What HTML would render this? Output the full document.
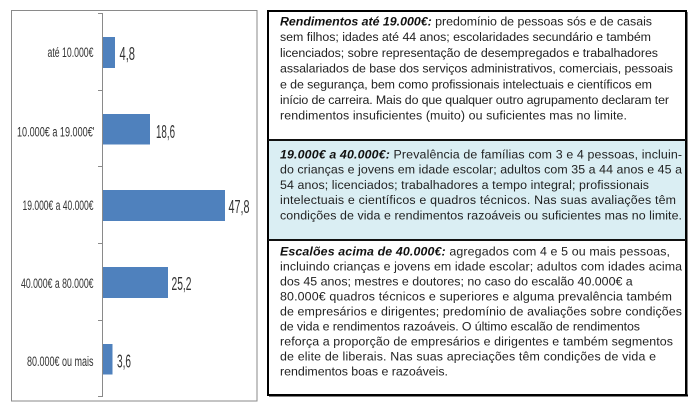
<!DOCTYPE html>
<html>
<head>
<meta charset="utf-8">
<style>
html,body{margin:0;padding:0;background:#fff;}
body{width:696px;height:403px;position:relative;overflow:hidden;font-family:"Liberation Sans",Arial,sans-serif;}
svg{position:absolute;left:0;top:0;}
</style>
</head>
<body>
<svg width="696" height="403" viewBox="0 0 696 403" xmlns="http://www.w3.org/2000/svg">
  <!-- chart frame -->
  <rect x="11.5" y="10.5" width="245.5" height="390.5" fill="#fff" stroke="#8a8a8a" stroke-width="1"/>
  <!-- axis -->
  <line x1="102.5" y1="13" x2="102.5" y2="397" stroke="#8a8a8a" stroke-width="1"/>
  <g stroke="#8a8a8a" stroke-width="1">
    <line x1="98" y1="13.5" x2="102.5" y2="13.5"/>
    <line x1="98" y1="90.5" x2="102.5" y2="90.5"/>
    <line x1="98" y1="166.5" x2="102.5" y2="166.5"/>
    <line x1="98" y1="243.5" x2="102.5" y2="243.5"/>
    <line x1="98" y1="320.5" x2="102.5" y2="320.5"/>
    <line x1="98" y1="396.5" x2="102.5" y2="396.5"/>
  </g>
  <!-- bars -->
  <g fill="#4f81bd">
    <rect x="103" y="37" width="12" height="31"/>
    <rect x="103" y="114" width="47" height="30.5"/>
    <rect x="103" y="190" width="122" height="31"/>
    <rect x="103" y="267" width="65" height="31"/>
    <rect x="103" y="344" width="9.5" height="30.5"/>
  </g>
  <!-- category labels -->
  <g font-family="Liberation Sans, Arial, sans-serif" font-size="13.5" fill="#333" text-anchor="end">
    <text x="93.5" y="57" textLength="46" lengthAdjust="spacingAndGlyphs">até 10.000€</text>
    <text x="94.5" y="136.5" textLength="77.5" lengthAdjust="spacingAndGlyphs">10.000€ a 19.000€'</text>
    <text x="93.5" y="210" textLength="71" lengthAdjust="spacingAndGlyphs">19.000€ a 40.000€</text>
    <text x="93.5" y="288" textLength="72.5" lengthAdjust="spacingAndGlyphs">40.000€ a 80.000€</text>
    <text x="93.5" y="366" textLength="66.5" lengthAdjust="spacingAndGlyphs">80.000€ ou mais</text>
  </g>
  <!-- value labels -->
  <g font-family="Liberation Sans, Arial, sans-serif" font-size="18" fill="#333">
    <text x="119.5" y="60" textLength="15.5" lengthAdjust="spacingAndGlyphs">4,8</text>
    <text x="156" y="138" textLength="19" lengthAdjust="spacingAndGlyphs">18,6</text>
    <text x="228.5" y="213" textLength="21" lengthAdjust="spacingAndGlyphs">47,8</text>
    <text x="171.5" y="290" textLength="20" lengthAdjust="spacingAndGlyphs">25,2</text>
    <text x="117" y="367.5" textLength="14" lengthAdjust="spacingAndGlyphs">3,6</text>
  </g>
  <!-- right box -->
  <rect x="269" y="141" width="416" height="98" fill="#daeef3"/>
  <rect x="268" y="11" width="418" height="384" fill="none" stroke="#000" stroke-width="2"/>
  <line x1="686.5" y1="12" x2="686.5" y2="396" stroke="#000" stroke-width="2"/>
  <line x1="269" y1="395.5" x2="688" y2="395.5" stroke="#000" stroke-width="2"/>
  <line x1="268" y1="140" x2="686" y2="140" stroke="#111" stroke-width="2"/>
  <line x1="268" y1="240" x2="686" y2="240" stroke="#111" stroke-width="2"/>

  <g font-family="Liberation Sans, Arial, sans-serif" font-size="12.4" fill="#222">
    <!-- box 1 -->
    <text x="280" y="25.5" textLength="372" lengthAdjust="spacing"><tspan font-weight="bold" font-style="italic" fill="#111">Rendimentos até 19.000€:</tspan> predomínio de pessoas sós e de casais</text>
    <text x="280" y="41.2" textLength="371" lengthAdjust="spacing">sem filhos; idades até 44 anos; escolaridades secundário e também</text>
    <text x="280" y="56.9" textLength="378" lengthAdjust="spacing">licenciados; sobre representação de desempregados e trabalhadores</text>
    <text x="280" y="72.6" textLength="393" lengthAdjust="spacing">assalariados de base dos serviços administrativos, comerciais, pessoais</text>
    <text x="280" y="88.3" textLength="372" lengthAdjust="spacing">e de segurança, bem como profissionais intelectuais e científicos em</text>
    <text x="280" y="104" textLength="389" lengthAdjust="spacing">início de carreira. Mais do que qualquer outro agrupamento declaram ter</text>
    <text x="280" y="119.7" textLength="347" lengthAdjust="spacing">rendimentos insuficientes (muito) ou suficientes mas no limite.</text>
    <!-- box 2 -->
    <text x="280" y="158.5" textLength="402" lengthAdjust="spacing"><tspan font-weight="bold" font-style="italic" fill="#111">19.000€ a 40.000€:</tspan> Prevalência de famílias com 3 e 4 pessoas, incluin-</text>
    <text x="280" y="173.7" textLength="402" lengthAdjust="spacing">do crianças e jovens em idade escolar; adultos com 35 a 44 anos e 45 a</text>
    <text x="280" y="188.9" textLength="369" lengthAdjust="spacing">54 anos; licenciados; trabalhadores a tempo integral; profissionais</text>
    <text x="280" y="204.1" textLength="396" lengthAdjust="spacing">intelectuais e científicos e quadros técnicos. Nas suas avaliações têm</text>
    <text x="280" y="219.3" textLength="402" lengthAdjust="spacing">condições de vida e rendimentos razoáveis ou suficientes mas no limite.</text>
    <!-- box 3 -->
    <text x="280" y="255.5" textLength="390" lengthAdjust="spacing"><tspan font-weight="bold" font-style="italic" fill="#111">Escalões acima de 40.000€:</tspan> agregados com 4 e 5 ou mais pessoas,</text>
    <text x="280" y="270.5" textLength="402" lengthAdjust="spacing">incluindo crianças e jovens em idade escolar; adultos com idades acima</text>
    <text x="280" y="285.5">dos 45 anos; mestres e doutores; no caso do escalão 40.000€ a</text>
    <text x="280" y="300.5" textLength="392" lengthAdjust="spacing">80.000€ quadros técnicos e superiores e alguma prevalência também</text>
    <text x="280" y="315.5" textLength="402" lengthAdjust="spacing">de empresários e dirigentes; predomínio de avaliações sobre condições</text>
    <text x="280" y="330.5" textLength="360" lengthAdjust="spacing">de vida e rendimentos razoáveis. O último escalão de rendimentos</text>
    <text x="280" y="345.5" textLength="393" lengthAdjust="spacing">reforça a proporção de empresários e dirigentes e também segmentos</text>
    <text x="280" y="360.5" textLength="376" lengthAdjust="spacing">de elite de liberais. Nas suas apreciações têm condições de vida e</text>
    <text x="280" y="375.5" textLength="168" lengthAdjust="spacing">rendimentos boas e razoáveis.</text>
  </g>
</svg>
</body>
</html>
